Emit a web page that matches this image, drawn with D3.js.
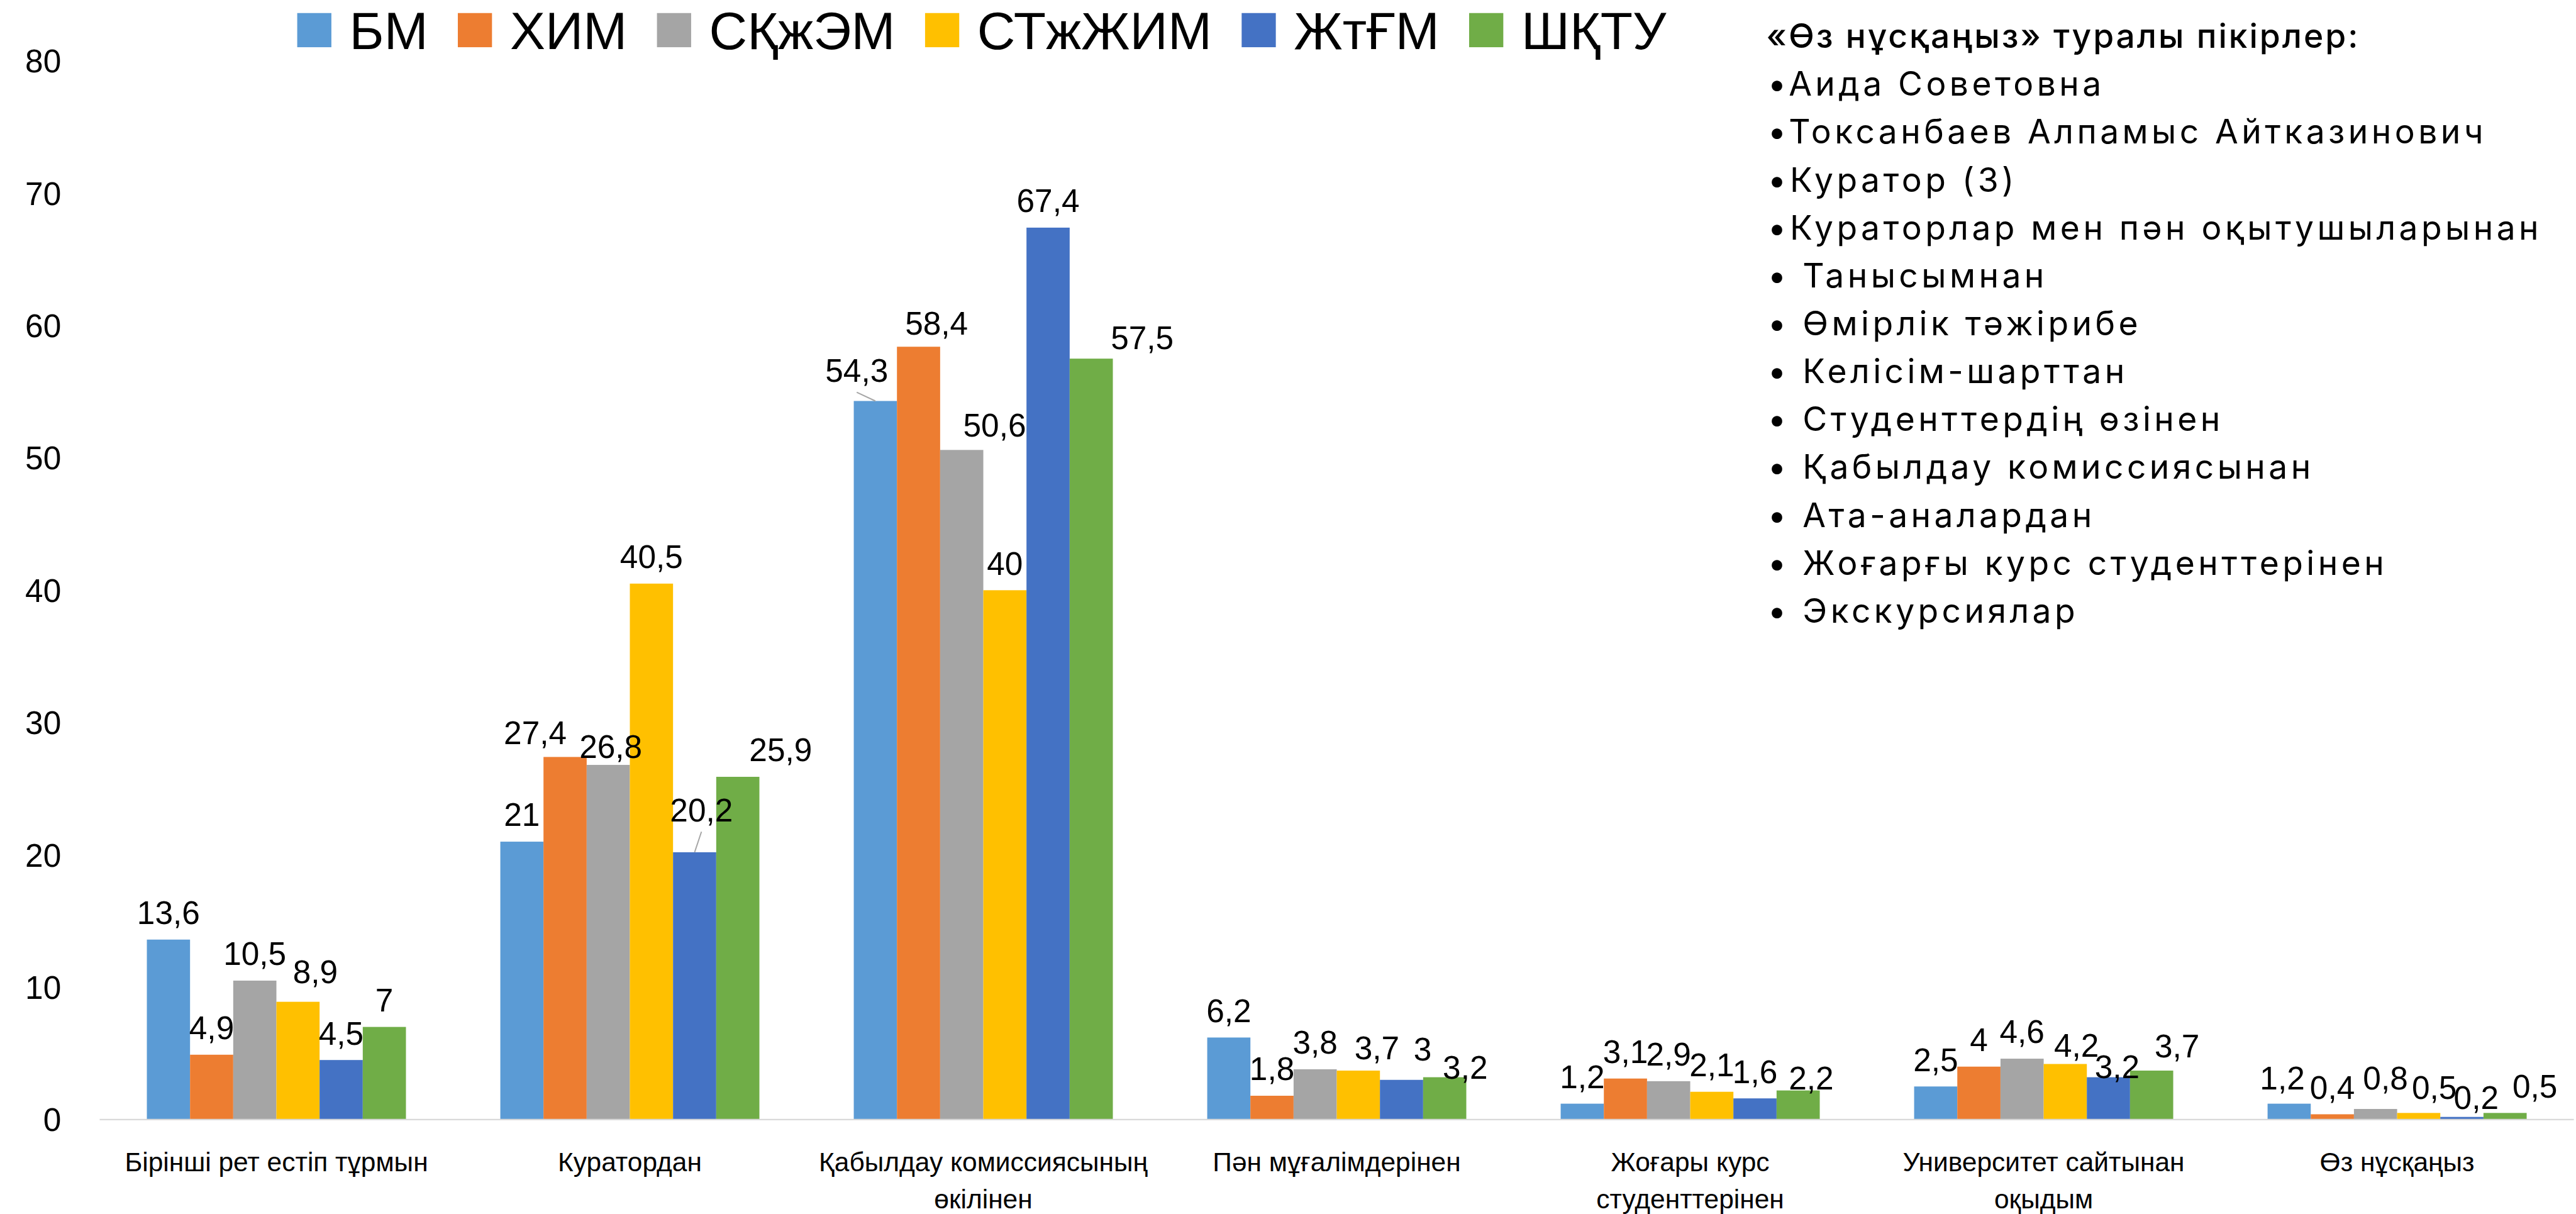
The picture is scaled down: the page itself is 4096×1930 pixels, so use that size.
<!DOCTYPE html>
<html>
<head>
<meta charset="utf-8">
<script src="https://cdn.jsdelivr.net/npm/d3@7"></script>
<style>
  html, body { margin: 0; padding: 0; background: #fff; overflow: hidden; }
  svg { display: block; }
</style>
</head>
<body>
<svg id="chart" width="4096" height="1930" viewBox="0 0 4146 1954"></svg>
<script>
const categories = [
  ["Бірінші рет естіп тұрмын"],
  ["Куратордан"],
  ["Қабылдау комиссиясының", "өкілінен"],
  ["Пән мұғалімдерінен"],
  ["Жоғары курс", "студенттерінен"],
  ["Университет сайтынан", "оқыдым"],
  ["Өз нұсқаңыз"]
];
const seriesNames = ["БМ", "ХИМ", "СҚжЭМ", "СТжЖИМ", "ЖтҒМ", "ШҚТУ"];
const colors = ["#5b9bd5", "#ed7d31", "#a5a5a5", "#ffc000", "#4472c4", "#70ad47"];

const bm     = [13.6, 21,   54.3, 6.2, 1.2, 2.5, 1.2];
const xim    = [4.9,  27.4, 58.4, 1.8, 3.1, 4,   0.4];
const skzhem = [10.5, 26.8, 50.6, 3.8, 2.9, 4.6, 0.8];
const stzhim = [8.9,  40.5, 40,   3.7, 2.1, 4.2, 0.5];
const zhtgm  = [4.5,  20.2, 67.4, 3,   1.6, 3.2, 0.2];
const shktu  = [7,    25.9, 57.5, 3.2, 2.2, 3.7, 0.5];
const seriesValues = [bm, xim, skzhem, stzhim, zhtgm, shktu];

const yTicks = [0, 10, 20, 30, 40, 50, 60, 70, 80];

const notesTitle = "«Өз нұсқаңыз» туралы пікірлер:";
const notes = [
  "•Аида Советовна",
  "•Токсанбаев Алпамыс Айтказинович",
  "•Куратор (3)",
  "•Кураторлар мен пән оқытушыларынан",
  "• Танысымнан",
  "• Өмірлік тәжірибе",
  "• Келісім-шарттан",
  "• Студенттердің өзінен",
  "• Қабылдау комиссиясынан",
  "• Ата-аналардан",
  "• Жоғарғы курс студенттерінен",
  "• Экскурсиялар"
];

// labels that were dragged by hand in the original: [series, category, dx, dy, leader]
const labelMoves = [
  [3, 0, 28, -5], [1, 1, -48, 4], [2, 1, 4, 14], [4, 1, 11, -25, true], [5, 1, 69, 0],
  [0, 2, -30, -6, true], [1, 2, 29, 6], [2, 2, 53, 3], [5, 2, 82, 10],
  [3, 3, 30, 7], [4, 3, 34, -6], [5, 3, 33, 27],
  [5, 4, 21, 23],
  [3, 5, 18, 13], [4, 5, 14, 26], [5, 5, 41, 4],
  [0, 6, -11, 2], [2, 6, 16, -6], [3, 6, 25, 2], [4, 6, 23, 12], [5, 6, 48, 0]
];

const svg = d3.select("#chart");
const font = "'Liberation Sans', Arial, sans-serif";

const x0 = d3.scaleBand().domain(d3.range(categories.length)).range([160, 4143]);
const groupW = x0.bandwidth() * 0.733;
const x1 = d3.scaleBand().domain(d3.range(seriesNames.length)).range([0, groupW]);
const y = d3.scaleLinear().domain([0, 80]).range([1802, 98]);

const gx = c => x0(c) + (x0.bandwidth() - groupW) / 2;

// y tick labels
svg.append("g").selectAll("text")
   .data(yTicks)
   .join("text")
   .attr("x", 98)
   .attr("y", d => y(d))
   .attr("dy", "0.36em")
   .attr("text-anchor", "end")
   .style("font-family", font)
   .style("font-size", "52px")
   .style("fill", "#000")
   .text(d => d);

// bars
const bars = [];
seriesValues.forEach((vals, s) => vals.forEach((v, c) => bars.push({s, c, v})));

svg.append("g").selectAll("rect")
   .data(bars)
   .join("rect")
   .attr("x", d => gx(d.c) + x1(d.s))
   .attr("y", d => y(d.v))
   .attr("width", x1.bandwidth())
   .attr("height", d => y(0) - y(d.v))
   .style("fill", d => colors[d.s]);

// axis line
svg.append("line")
   .attr("x1", x0.range()[0]).attr("x2", x0.range()[1])
   .attr("y1", y(0)).attr("y2", y(0))
   .style("stroke", "#d9d9d9")
   .style("stroke-width", 2.5);

// data labels
const moveOf = (s, c) => labelMoves.find(m => m[0] === s && m[1] === c) || [s, c, 0, 0, false];
bars.forEach(d => {
    const m = moveOf(d.s, d.c);
    d.cx = gx(d.c) + x1(d.s) + x1.bandwidth() / 2;
    d.lx = d.cx + m[2];
    d.ly = y(d.v) - 25 + m[3];
    d.leader = !!m[4];
});

svg.append("g").selectAll("line")
   .data(bars.filter(d => d.leader))
   .join("line")
   .attr("x1", d => d.cx).attr("y1", d => y(d.v))
   .attr("x2", d => d.lx).attr("y2", d => d.ly + 17)
   .style("stroke", "#a6a6a6")
   .style("stroke-width", 2);

svg.append("g").selectAll("text")
   .data(bars)
   .join("text")
   .attr("x", d => d.lx)
   .attr("y", d => d.ly)
   .attr("text-anchor", "middle")
   .style("font-family", font)
   .style("font-size", "52px")
   .style("fill", "#000")
   .text(d => String(d.v).replace(".", ","));

// category labels
const cat = svg.append("g").selectAll("text")
   .data(categories)
   .join("text")
   .attr("text-anchor", "middle")
   .style("font-family", font)
   .style("font-size", "43px")
   .style("fill", "#000");
cat.selectAll("tspan")
   .data((d, i) => d.map((t, j) => ({t, j, i})))
   .join("tspan")
   .attr("x", d => x0(d.i) + x0.bandwidth() / 2)
   .attr("y", d => 1885 + d.j * 60)
   .text(d => d.t);

// legend
let lx = 478;
const legend = svg.append("g");
seriesNames.forEach((name, i) => {
    legend.append("rect")
          .attr("x", lx).attr("y", 21)
          .attr("width", 55).attr("height", 55)
          .style("fill", colors[i]);
    const t = legend.append("text")
          .attr("x", lx + 84).attr("y", 79)
          .style("font-family", font)
          .style("font-size", "85px")
          .style("fill", "#000")
          .text(name);
    lx += 84 + t.node().getComputedTextLength() + 48;
});

// notes block
const notesG = svg.append("g").style("font-family", "Inter, 'Liberation Sans', sans-serif");
notesG.append("text")
      .attr("x", 2843).attr("y", 77)
      .style("font-size", "54px")
      .style("font-weight", 500)
      .style("letter-spacing", "3px")
      .style("fill", "#000")
      .text(notesTitle);
notesG.selectAll("text.note")
      .data(notes)
      .join("text")
      .attr("class", "note")
      .attr("x", 2845)
      .attr("y", (d, i) => 77 + (i + 1) * 77.1)
      .style("font-size", "54px")
      .style("letter-spacing", "5.5px")
      .style("fill", "#000")
      .text(d => d);
</script>
</body>
</html>
